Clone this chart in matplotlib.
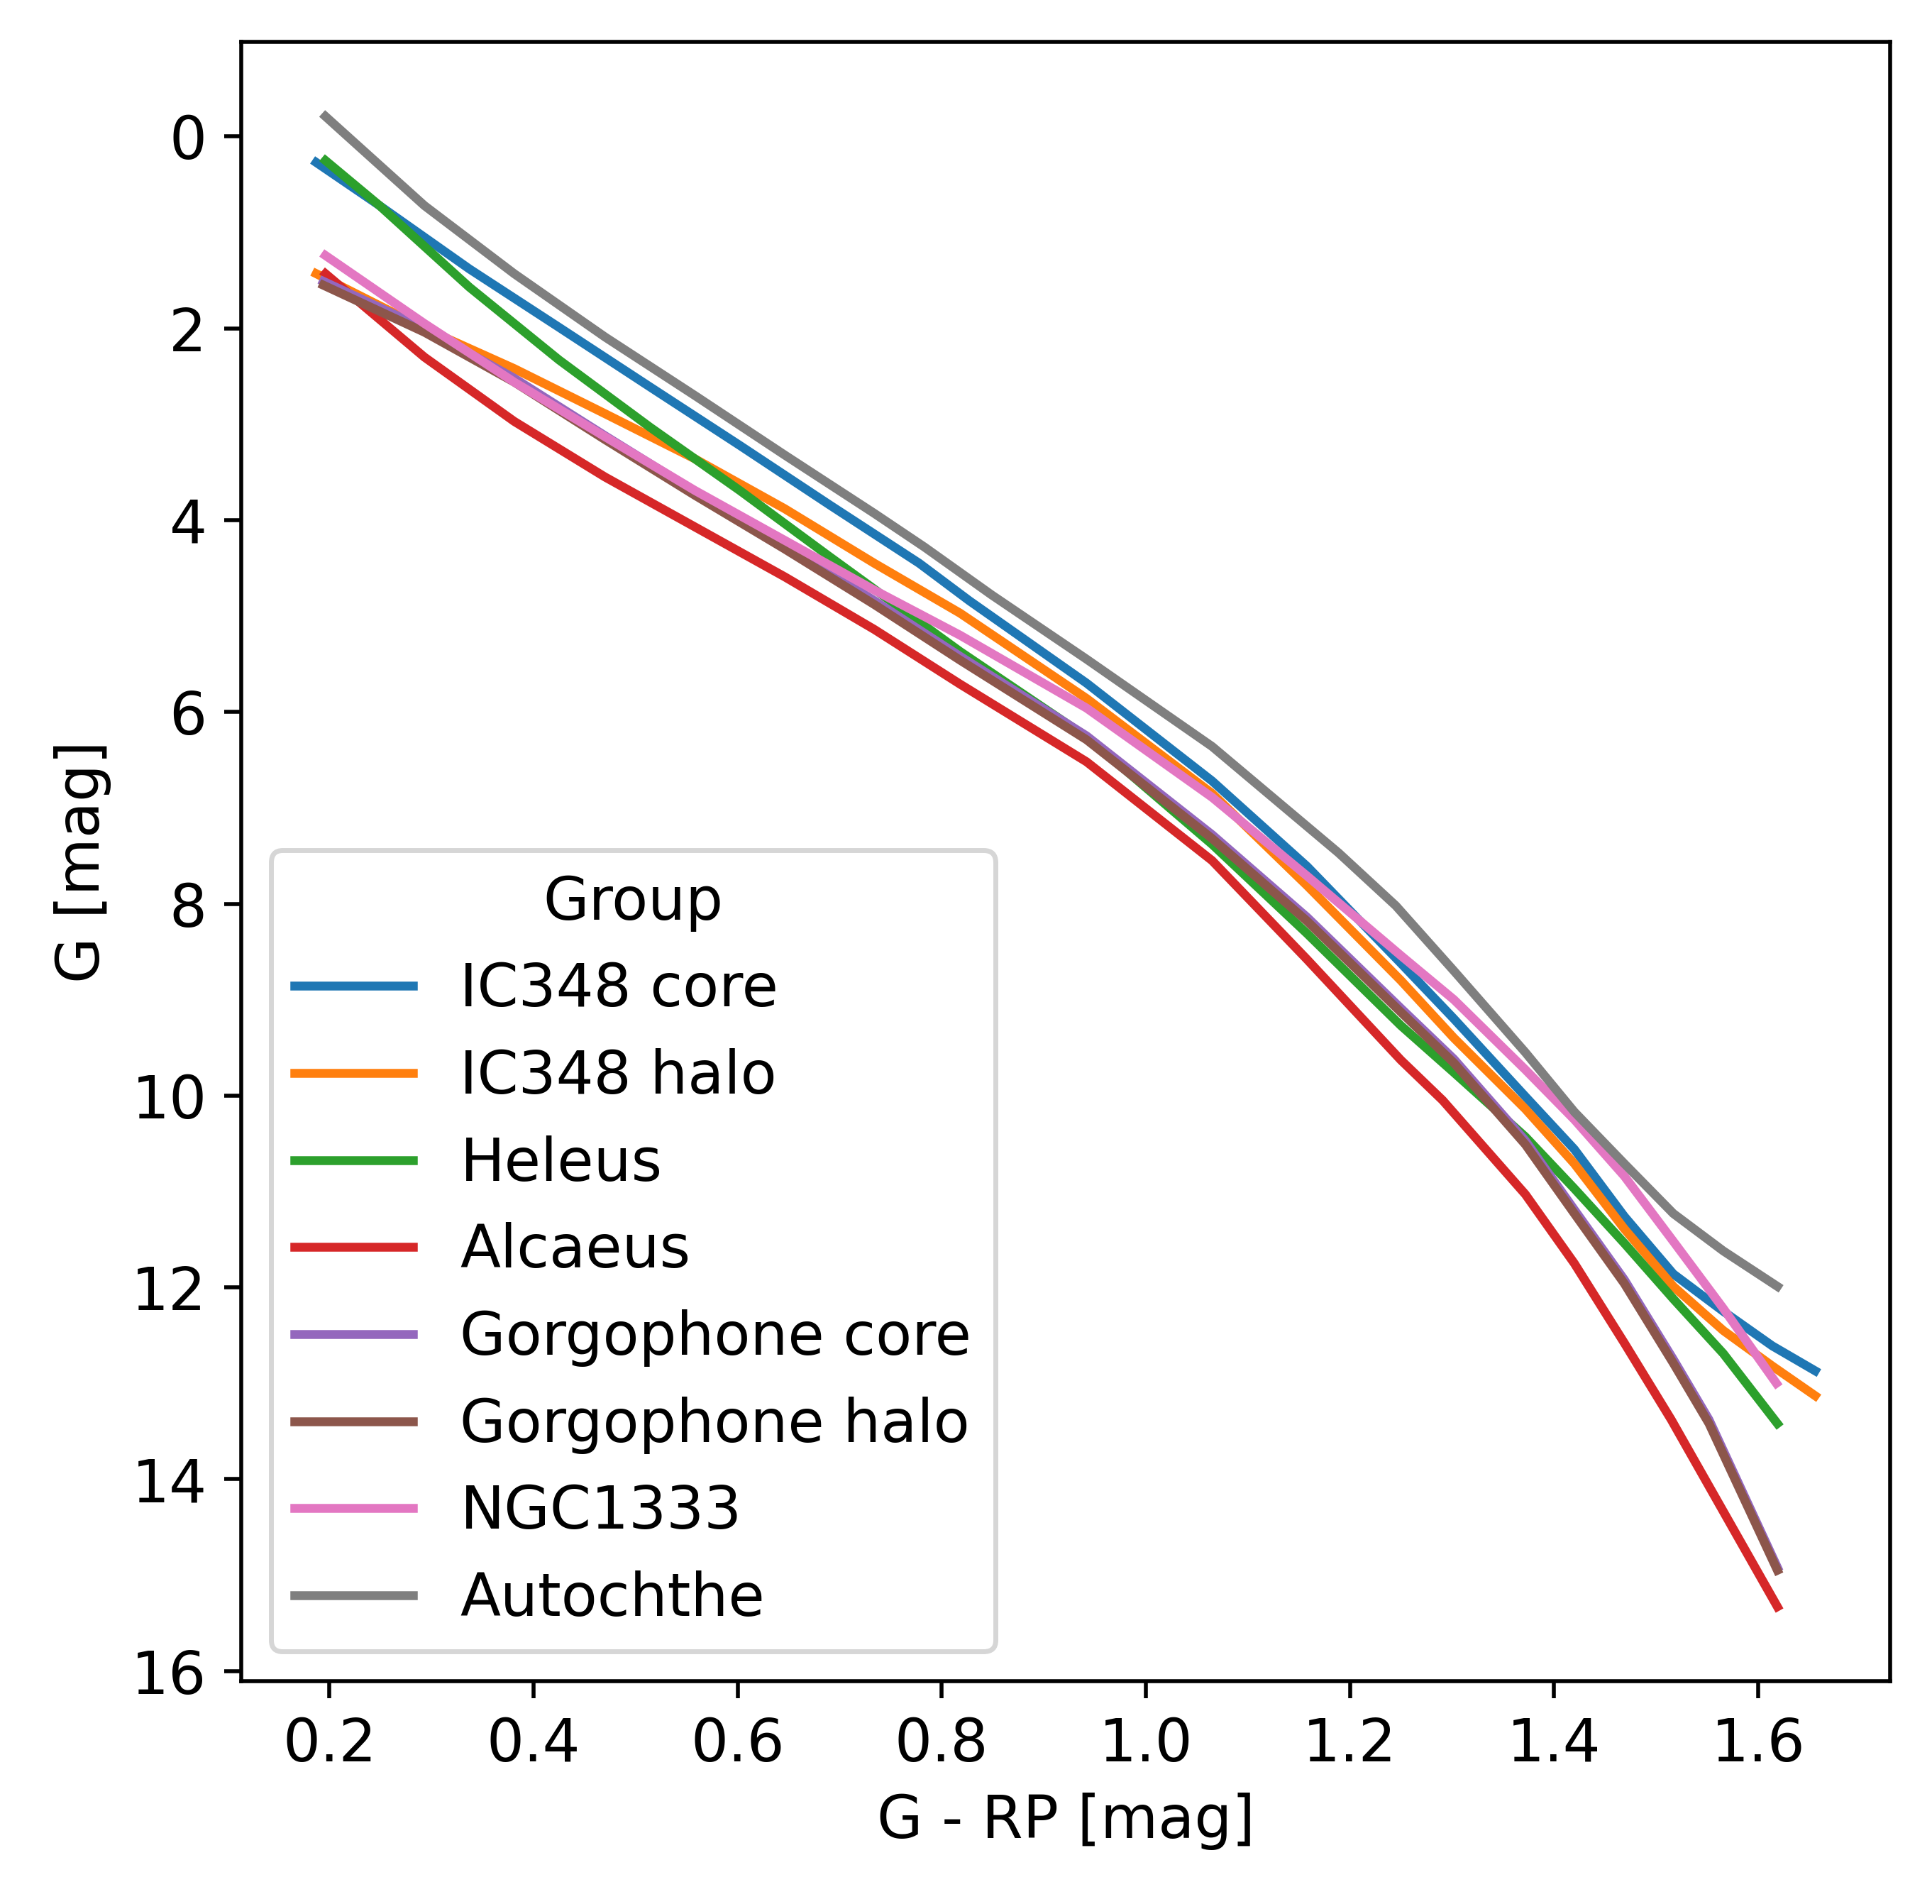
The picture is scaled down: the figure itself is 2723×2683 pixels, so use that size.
import numpy as np
import matplotlib
matplotlib.use("Agg")
import matplotlib.pyplot as plt

plt.rcParams['font.size'] = 12

# colour index G-RP and absolute G magnitude for each group
groups = ["IC348 core", "IC348 halo", "Heleus", "Alcaeus",
          "Gorgophone core", "Gorgophone halo", "NGC1333", "Autochthe"]

ic348_core_x = [0.187, 0.249, 0.337, 0.425, 0.514, 0.602, 0.690, 0.778, 0.827, 0.942,
                1.065, 1.158, 1.250, 1.302, 1.372, 1.420, 1.469, 1.517, 1.566, 1.614, 1.656]
ic348_core_g = [0.27, 0.72, 1.38, 1.99, 2.61, 3.22, 3.84, 4.45, 4.84, 5.70,
                6.72, 7.61, 8.62, 9.20, 10.01, 10.56, 11.26, 11.86, 12.25, 12.61, 12.87]

ic348_halo_x = [0.187, 0.293, 0.381, 0.470, 0.558, 0.646, 0.734, 0.818, 0.942, 1.065,
                1.158, 1.250, 1.302, 1.372, 1.420, 1.469, 1.517, 1.566, 1.614, 1.656]
ic348_halo_g = [1.43, 2.00, 2.42, 2.89, 3.36, 3.88, 4.45, 4.97, 5.86, 6.85,
                7.81, 8.80, 9.40, 10.14, 10.71, 11.39, 11.99, 12.45, 12.82, 13.13]

heleus_x = [0.196, 0.249, 0.337, 0.425, 0.514, 0.602, 0.690, 0.818, 0.942, 1.065,
            1.158, 1.250, 1.302, 1.372, 1.420, 1.469, 1.517, 1.566, 1.619]
heleus_g = [0.25, 0.72, 1.57, 2.33, 3.03, 3.69, 4.38, 5.37, 6.26, 7.38,
            8.31, 9.27, 9.76, 10.43, 10.97, 11.54, 12.12, 12.69, 13.42]

alcaeus_x = [0.196, 0.293, 0.381, 0.470, 0.558, 0.646, 0.734, 0.818, 0.942, 1.065,
             1.158, 1.250, 1.291, 1.372, 1.420, 1.469, 1.515, 1.619]
alcaeus_g = [1.43, 2.30, 2.97, 3.55, 4.07, 4.59, 5.14, 5.71, 6.52, 7.55,
             8.58, 9.63, 10.05, 11.03, 11.75, 12.58, 13.38, 15.33]

gorg_core_x = [0.194, 0.293, 0.381, 0.470, 0.558, 0.646, 0.734, 0.818, 0.942, 1.065,
               1.158, 1.250, 1.302, 1.372, 1.420, 1.469, 1.517, 1.552, 1.619]
gorg_core_g = [1.51, 2.00, 2.52, 3.12, 3.70, 4.26, 4.84, 5.42, 6.25, 7.28,
               8.14, 9.09, 9.62, 10.47, 11.19, 11.92, 12.75, 13.38, 14.92]

gorg_halo_x = [0.194, 0.293, 0.381, 0.470, 0.558, 0.646, 0.734, 0.818, 0.942, 1.065,
               1.158, 1.250, 1.302, 1.372, 1.420, 1.469, 1.517, 1.552, 1.619]
gorg_halo_g = [1.55, 2.04, 2.56, 3.16, 3.74, 4.30, 4.88, 5.46, 6.29, 7.32,
               8.18, 9.13, 9.66, 10.51, 11.23, 11.96, 12.79, 13.42, 14.95]

ngc1333_x = [0.196, 0.293, 0.381, 0.470, 0.558, 0.646, 0.734, 0.818, 0.942, 1.065,
             1.158, 1.250, 1.302, 1.372, 1.420, 1.469, 1.517, 1.566, 1.618]
ngc1333_g = [1.24, 1.95, 2.56, 3.13, 3.69, 4.21, 4.73, 5.20, 5.96, 6.89,
             7.71, 8.54, 9.00, 9.73, 10.25, 10.84, 11.52, 12.22, 13.00]

autochthe_x = [0.196, 0.293, 0.381, 0.470, 0.558, 0.646, 0.734, 0.783, 0.849, 0.942,
               1.065, 1.189, 1.245, 1.302, 1.372, 1.420, 1.469, 1.517, 1.566, 1.619]
autochthe_g = [-0.21, 0.72, 1.43, 2.09, 2.70, 3.32, 3.93, 4.28, 4.78, 5.45,
               6.36, 7.47, 8.02, 8.70, 9.55, 10.17, 10.71, 11.23, 11.62, 11.99]

xs = [ic348_core_x, ic348_halo_x, heleus_x, alcaeus_x,
      gorg_core_x, gorg_halo_x, ngc1333_x, autochthe_x]
gs = [ic348_core_g, ic348_halo_g, heleus_g, alcaeus_g,
      gorg_core_g, gorg_halo_g, ngc1333_g, autochthe_g]

fig = plt.figure(figsize=(5.446, 5.366), dpi=500)
ax = fig.add_axes([0.1249, 0.1170, 0.8534, 0.8610])

for name, x, g in zip(groups, xs, gs):
    ax.plot(x, g, label=name, lw=1.8)

ax.invert_yaxis()
ax.set_xlabel("G - RP [mag]")
ax.set_ylabel("G [mag]")
ax.legend(title="Group", loc="lower left")

plt.savefig("out.png", dpi=500)
